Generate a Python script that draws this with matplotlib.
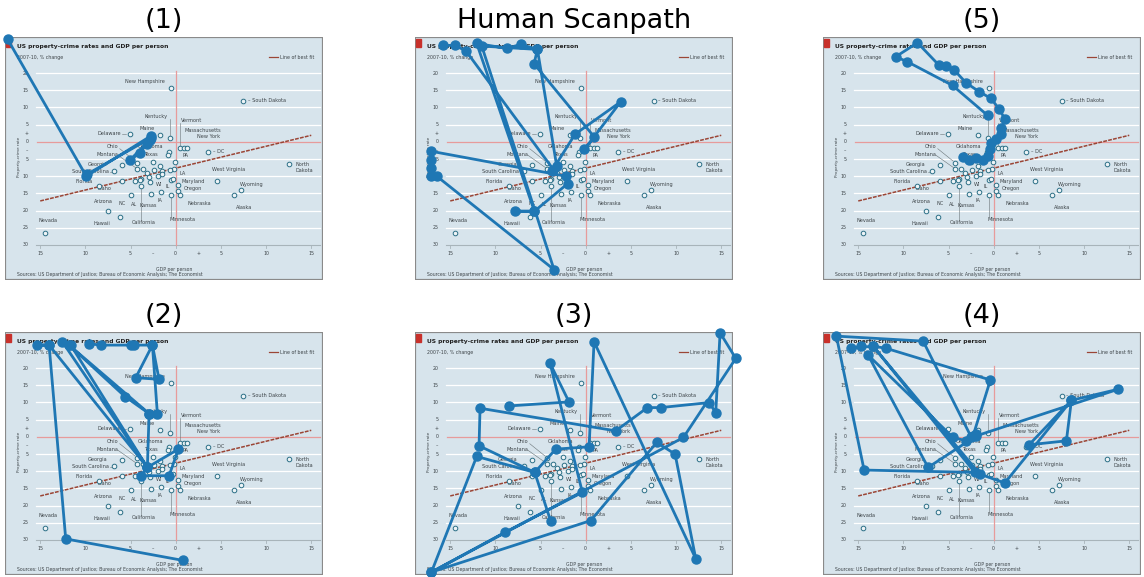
#!/usr/bin/env python3
# scanpaths over the "US property-crime rates and GDP per person" chart

import matplotlib
matplotlib.use("Agg")
from matplotlib import pyplot as plt
from matplotlib.patches import Rectangle

# chart underneath: GDP per person vs property-crime rate, 2007-10 % change
state_gdp = [-0.5, 7.5, -5.1, -1.7, -0.6, 0.5, 0.9, 1.3, 3.6, 12.5,
             4.6, 7.2, 6.4, -14.5, -6.2, -7.5, -4.9, -2.7, -3.9, -8.5,
             -5.9, -6.8, -5.9, -4.3, -4.3, -0.8, -0.9, -0.2, -0.5, -0.3,
             0.3, 0.2, 0.5, -0.5, -1.6, -3.6, -3.2, -2.5, -2.4, -1.7,
             -1.5, -2.0, -2.8, -3.8, -4.5, -1.5, -0.6, -0.1, -4.0, -3.0]
state_crime = [15.7, 12.0, 2.3, 2.0, 1.2, -1.8, -1.8, -1.8, -2.9, -6.5,
               -11.3, -14.1, -15.5, -26.6, -21.8, -20.0, -15.6, -15.1, -12.9, -12.9,
               -11.3, -8.6, -6.7, -6.2, -8.0, -2.9, -3.9, -7.9, -11.0, -10.7,
               -12.7, -14.2, -15.5, -15.5, -14.6, -7.9, -9.2, -6.0, -8.1, -7.1,
               -8.5, -10.0, -11.7, -10.7, -11.5, -9.3, -8.1, -5.8, -11.0, -10.3]

fit_x = [-15, 15]
fit_y = [-17.2, 1.9]

y_ticks = [20, 15, 10, 5, 2.5, 0, -2.5, -5, -10, -15, -20, -25, -30]
y_tick_labels = ['20', '15', '10', '5', '+', '0', '–', '5', '10', '15', '20', '25', '30']
x_ticks = [-15, -10, -5, -2.5, 0, 2.5, 5, 10, 15]
x_tick_labels = ['15', '10', '5', '–', '0', '+', '5', '10', '15']

# scanpaths, in the chart's own units
path_1 = [(-18.6, 29.8), (-9.9, -10.0), (-2.7, 1.8), (-2.9, 0.5), (-5.1, -5.4),
          (-4.0, -3.3), (-3.2, -0.6), (-2.7, 1.2), (-9.8, -9.4)]
path_human = [(-15.76, 28.06), (-14.46, 28.06), (-13.25, 26.41), (-3.58, -8.06),
              (-3.21, -7.09), (-5.35, 26.89), (-7.20, 28.35), (-8.75, 27.18),
              (-12.07, 28.64), (-5.68, -20.19), (-7.82, -20.19), (-5.68, -20.19),
              (-1.99, -12.14), (-2.18, -10.0), (-17.16, -2.72), (-17.16, -5.15),
              (-17.16, -7.57), (-17.16, -10.0), (-16.49, -10.0), (-3.51, -37.18),
              (-11.51, 27.86), (-5.35, 26.89), (-5.72, 22.72), (0.96, 1.36),
              (-0.15, -2.23), (3.87, 11.65), (-1.18, 2.23), (-3.76, -8.54)]
path_5 = [(-0.67, 7.67), (-4.56, 16.41), (-9.56, 23.30), (-10.85, 24.76),
          (-8.44, 28.83), (-6.04, 22.23), (-5.30, 22.04), (-4.37, 20.87),
          (-3.07, 17.18), (-1.59, 14.56), (-0.30, 12.62), (0.63, 9.42),
          (1.26, 6.50), (0.81, 4.08), (0.81, 2.14), (0.26, 0.68), (-0.30, -0.29),
          (-0.41, -2.23), (-0.67, -4.17), (-1.22, -5.15), (-1.96, -4.66),
          (-2.70, -5.15), (-3.44, -4.47)]
path_2 = [(-9.59, 27.08), (-8.30, 26.69), (-4.98, 26.69), (-4.61, 26.69),
          (-2.58, 26.69), (-4.43, 17.21), (-1.85, 16.73), (-2.58, 26.69),
          (-2.03, 6.58), (-2.95, 6.77), (-11.81, 26.69), (-5.61, 11.70),
          (-2.95, 6.77), (-3.14, -8.90), (-3.87, -11.32), (-0.74, -11.32),
          (0.30, -3.58), (-3.14, -8.90), (-12.55, 27.66), (-11.62, 26.69),
          (-3.14, -8.90), (-14.02, 26.69), (-15.31, 26.69), (-14.02, 26.69),
          (-12.18, -29.69), (0.85, -35.98)]
path_3 = [(-8.49, 8.99), (-1.85, 10.15), (-3.95, 21.37), (-0.37, -16.15),
          (-8.93, -27.76), (-17.08, -39.36), (10.81, -0.19), (16.61, 22.82),
          (14.87, 30.27), (14.39, 7.06), (13.65, 9.96), (8.30, 8.51),
          (6.83, 8.51), (3.32, 1.74), (-11.70, 8.32), (-11.81, -2.61),
          (-5.65, -10.35), (-3.32, -3.58), (0.37, -2.90), (0.92, 27.66),
          (12.18, -35.49), (9.89, -5.03), (7.86, -1.64), (0.55, -24.37),
          (-17.08, -39.36), (-12.07, -5.71), (-5.65, -10.35), (-3.87, -24.56)]
path_4 = [(-14.65, 26.40), (-15.76, 25.73), (-13.36, 26.40), (-11.88, 25.73),
          (-0.37, 16.54), (-2.29, 0.29), (-3.03, -1.16), (-4.50, -0.19),
          (-13.91, 23.79), (-7.27, -8.90), (-1.92, 0.29), (13.76, 13.83),
          (8.60, 10.64), (8.04, -1.16), (3.91, -2.32), (8.60, 10.64),
          (1.22, -13.44), (-1.55, -10.83), (-13.36, 26.40), (-2.10, -10.35),
          (-14.35, -9.67), (-17.42, 29.30), (-7.82, 27.85), (-2.47, -0.19),
          (-1.92, 0.77)]

panels = [('(1)', path_1), ('Human Scanpath', path_human), ('(5)', path_5),
          ('(2)', path_2), ('(3)', path_3), ('(4)', path_4)]

# state labels: text, x, y, alignment
state_labels = [
    ('New Hampshire', -1.2, 17.6, 'right'), ('– South Dakota', 8.0, 12.0, 'left'),
    ('Delaware', -6.0, 2.3, 'right'), ('Maine', -3.2, 3.9, 'center'),
    ('Kentucky', -2.2, 7.4, 'center'), ('Vermont', 0.6, 6.3, 'left'),
    ('Massachusetts', 1.0, 3.3, 'left'), ('New York', 2.3, 1.5, 'left'),
    ('PA', 0.8, -4.0, 'left'), ('– DC', 4.1, -2.9, 'left'),
    ('North', 13.3, -6.5, 'left'), ('Dakota', 13.3, -8.3, 'left'),
    ('Ohio', -7.0, -1.5, 'center'), ('Montana', -7.6, -3.7, 'center'),
    ('Oklahoma', -2.8, -1.5, 'center'), ('Texas', -2.7, -3.8, 'center'),
    ('Georgia', -8.6, -6.6, 'center'), ('South Carolina', -7.4, -8.7, 'right'),
    ('Florida', -10.2, -11.5, 'center'), ('Idaho', -7.9, -13.7, 'center'),
    ('Arizona', -8.0, -17.5, 'center'), ('NC', -5.9, -17.8, 'center'),
    ('AL', -4.6, -18.3, 'center'), ('Kansas', -3.0, -18.5, 'center'),
    ('California', -3.6, -23.4, 'center'), ('Hawaii', -8.2, -23.9, 'center'),
    ('Nevada', -14.1, -22.9, 'center'), ('West Virginia', 5.9, -8.1, 'center'),
    ('Wyoming', 8.4, -12.4, 'center'), ('Alaska', 7.6, -19.2, 'center'),
    ('Maryland', 1.9, -11.5, 'center'), ('Oregon', 1.9, -13.7, 'center'),
    ('Nebraska', 2.6, -18.0, 'center'), ('Minnesota', 0.8, -22.6, 'center'),
    ('LA', 0.8, -9.2, 'center'), ('IA', -1.7, -17.0, 'center'),
    ('WI', -1.8, -12.3, 'center'), ('IL', -0.9, -12.9, 'center'),
]
leaders = [((-0.6, -0.6), (6.6, 1.8)), ((-3.9, -3.9), (-13.5, -22.6)),
           ((-0.5, -0.5), (-16.1, -21.8)), ((0.5, 0.5), (5.6, -1.2)),
           ((-5.9, -5.5), (2.3, 2.3)), ((-7.3, -7.1), (-8.7, -8.7)),
           ((-6.2, -4.5), (-2.0, -5.6)), ((-6.4, -4.4), (-3.9, -7.6))]

BG = '#d7e4ec'
INK = '#3d4448'
SCAN = '#1f77b4'


def draw_chart(ax):
    ax.set_xlim(-18.9, 16.3)
    ax.set_ylim(-40.2, 30.5)
    ax.set_axis_off()
    ax.add_patch(Rectangle((0, 0), 1, 1, transform=ax.transAxes, facecolor=BG,
                           edgecolor='#8a8a8a', linewidth=1.6, zorder=0))
    ax.add_patch(Rectangle((-18.75, 27.7), 0.55, 2.3, color='#c8312b', zorder=1))

    for yv in [20, 15, 10, 5, -5, -10, -15, -20, -25]:
        ax.plot([-15.5, 16.0], [yv, yv], color='white', lw=0.9, zorder=1)
    ax.plot([-15.5, 16.0], [-30, -30], color='#a8b4ba', lw=0.8, zorder=1)
    for xv in [-15, -10, -5, 0, 5, 10, 15]:
        ax.plot([xv, xv], [-30, -30.8], color='#a8b4ba', lw=0.6, zorder=1)
    ax.plot([-15.4, 16.0], [0, 0], color='#e79b9b', lw=0.9, zorder=1)
    ax.plot([0, 0], [20.5, -30], color='#e79b9b', lw=0.9, zorder=1)
    ax.plot(fit_x, fit_y, color='#9b4535', lw=1.1, ls=(0, (2.5, 0.8)), zorder=2)

    for yv, lab in zip(y_ticks, y_tick_labels):
        ax.text(-16.3, yv, lab, ha='right', va='center', fontsize=3.4, color=INK)
    for xv, lab in zip(x_ticks, x_tick_labels):
        ax.text(xv, -32.6, lab, ha='center', va='center', fontsize=3.4, color=INK)

    ax.text(-17.6, 27.8, 'US property-crime rates and GDP per person', fontsize=4.3,
            fontweight='bold', color='#222', va='center')
    ax.text(-17.6, 24.6, '2007-10, % change', fontsize=3.4, color=INK, va='center')
    ax.plot([10.3, 11.3], [24.6, 24.6], color='#9b4535', lw=0.9)
    ax.text(11.5, 24.6, 'Line of best fit', fontsize=3.4, color=INK, va='center')
    ax.text(-0.2, -37.0, 'GDP per person', fontsize=3.3, color=INK, ha='center', va='center')
    ax.text(-17.4, -4.5, 'Property-crime rate', fontsize=3.0, color=INK, rotation=90,
            ha='center', va='center')
    ax.text(-17.6, -38.5, 'Sources: US Department of Justice; Bureau of Economic Analysis; '
            'The Economist', fontsize=3.3, color=INK, va='center')

    for lx, ly in leaders:
        ax.plot(lx, ly, color='#6a7478', lw=0.4, zorder=2)
    for name, tx, ty, ha in state_labels:
        ax.text(tx, ty, name, fontsize=3.6, color=INK, ha=ha, va='center', zorder=2)
    ax.scatter(state_gdp, state_crime, s=11, facecolor='#eef4f7', edgecolor='#2b6f86',
               linewidth=0.7, zorder=3)


fig = plt.figure(figsize=(11.44, 5.77), dpi=100)
W, H = 1144, 577
lefts = [5, 415, 823]
tops = [37, 332]
for i, (title, path) in enumerate(panels):
    row, col = divmod(i, 3)
    left, top = lefts[col], tops[row]
    ax = fig.add_axes([left / W, 1 - (top + 243) / H, 318 / W, 243 / H])
    draw_chart(ax)
    xs = [p[0] for p in path]
    ys = [p[1] for p in path]
    ax.plot(xs, ys, '-o', color=SCAN, lw=2.0, ms=6.5, clip_on=False, zorder=5)
    fig.text((left + 159) / W, 1 - (top - 9) / H, title, ha='center', va='baseline',
             fontsize=19.5)

fig.savefig('out.png', dpi=100)
